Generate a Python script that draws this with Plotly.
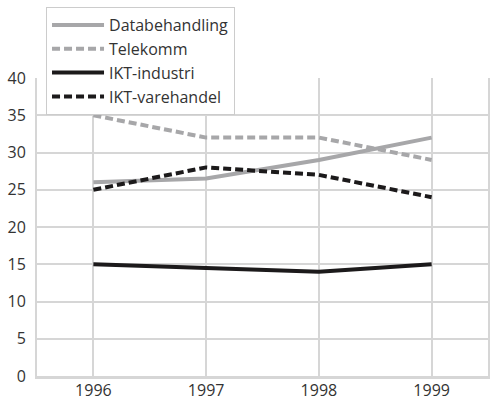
import plotly.graph_objects as go

years = [1996, 1997, 1998, 1999]
databehandling = [26, 26.5, 29, 32]
telekomm = [35, 32, 32, 29]
ikt_industri = [15, 14.5, 14, 15]
ikt_varehandel = [25, 28, 27, 24]

GRAY = "#a7a7a9"
BLACK = "#1c1a1b"
GRID = "#d6d6d6"
FONT = "Open Sans"

fig = go.Figure()
series = [
    ("Databehandling", databehandling, GRAY, "solid"),
    ("Telekomm", telekomm, GRAY, "8px,4px"),
    ("IKT-industri", ikt_industri, BLACK, "solid"),
    ("IKT-varehandel", ikt_varehandel, BLACK, "8px,4px"),
]
for name, vals, col, dash in series:
    fig.add_trace(go.Scatter(x=years, y=vals, name=name, mode="lines",
                             line=dict(color=col, width=4, dash=dash)))

fig.update_layout(
    width=497, height=408,
    margin=dict(l=37, r=9, t=78, b=32, autoexpand=False),
    paper_bgcolor="white", plot_bgcolor="white",
    font=dict(family=FONT, size=16, color="#333333"),
    showlegend=True,
    legend=dict(x=0.02, y=1.238, xanchor="left", yanchor="top",
                bgcolor="white", bordercolor="#cccccc", borderwidth=1,
                font=dict(size=16, color="#333333"), tracegroupgap=0,
                itemwidth=52),
    xaxis=dict(range=[1995.5, 1999.5], tickvals=years, ticktext=[str(y) for y in years],
               showgrid=True, gridcolor=GRID, gridwidth=2, zeroline=False,
               showline=True, linecolor=GRID, linewidth=3, ticks="",
               automargin=False, ticklabelstandoff=-2, fixedrange=True),
    yaxis=dict(range=[0, 40], tickvals=list(range(0, 41, 5)),
               showgrid=True, gridcolor=GRID, gridwidth=2, zeroline=False,
               showline=True, linecolor=GRID, linewidth=2, mirror=True, ticks="",
               automargin=False, ticklabelstandoff=6, fixedrange=True),
)

fig.write_html("out.html",
               config={"displayModeBar": False},
               post_script="document.body.style.margin='0';document.body.style.overflow='hidden';")
